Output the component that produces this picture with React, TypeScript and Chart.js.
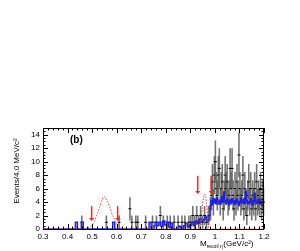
import React, { useEffect, useRef } from "react";
import { Chart, registerables } from "chart.js";

Chart.register(...registerables);

// Data points (bin centres, GeV/c^2) and event counts
const dataMass = [
  0.458, 0.558, 0.61, 0.654, 0.662, 0.678, 0.686, 0.718, 0.746, 0.762, 0.778, 0.79, 0.806, 0.818,
  0.834, 0.85, 0.866, 0.878, 0.894, 0.902, 0.91, 0.918, 0.926, 0.934, 0.942, 0.95, 0.958, 0.966,
  0.974, 0.982, 0.986, 0.99, 0.994, 0.998, 1.002, 1.006, 1.01, 1.014, 1.018, 1.022, 1.026, 1.03,
  1.034, 1.038, 1.042, 1.046, 1.05, 1.054, 1.058, 1.062, 1.066, 1.07, 1.074, 1.078, 1.082, 1.086,
  1.09, 1.094, 1.098, 1.102, 1.106, 1.11, 1.114, 1.118, 1.122, 1.126, 1.13, 1.134, 1.138, 1.142,
  1.146, 1.15, 1.154, 1.158, 1.162, 1.166, 1.17, 1.174, 1.178, 1.182, 1.186, 1.19, 1.194, 1.198,
];
const dataEvents = [
  1, 1, 1, 3, 1, 1, 1, 1, 1, 1, 2, 1, 1, 1,
  1, 1, 1, 1, 1, 1, 2, 1, 2, 1, 2, 1, 2, 1,
  2, 3, 5, 7, 4, 8, 10, 6, 5, 8, 9, 4, 6, 7,
  3, 5, 8, 6, 7, 4, 5, 9, 6, 9, 5, 3, 6, 4,
  7, 5, 11, 6, 4, 5, 8, 3, 6, 4, 2, 5, 7, 4,
  6, 3, 5, 4, 6, 3, 7, 4, 5, 4, 6, 3, 5, 4,
];

// MC background histogram: bin low edges and contents
const bkgEdge = [
  0.3, 0.432, 0.44, 0.456, 0.464, 0.584, 0.592, 0.732, 0.74, 0.752, 0.756, 0.764, 0.772, 0.78,
  0.788, 0.796, 0.804, 0.812, 0.82, 0.828, 0.852, 0.86, 0.872, 0.88, 0.888, 0.896, 0.904, 0.912,
  0.92, 0.928, 0.936, 0.944, 0.952, 0.96, 0.968, 0.976, 0.98, 0.984, 0.988, 0.992, 0.996, 1.0,
  1.004, 1.008, 1.012, 1.016, 1.02, 1.024, 1.028, 1.032, 1.036, 1.04, 1.044, 1.048, 1.052, 1.056,
  1.06, 1.064, 1.068, 1.072, 1.076, 1.08, 1.084, 1.088, 1.092, 1.096, 1.1, 1.104, 1.108, 1.112,
  1.116, 1.12, 1.124, 1.128, 1.132, 1.136, 1.14, 1.144, 1.148, 1.152, 1.156, 1.16, 1.164, 1.168,
  1.172, 1.176, 1.18, 1.184, 1.188, 1.192, 1.196, 1.2,
];
const bkgEvents = [
  0, 1, 0, 1, 0, 1, 0, 1, 0, 0.5, 1, 0.5, 1, 0.4,
  1.2, 0.6, 1, 0.3, 0.8, 0, 0.4, 0, 0.5, 0.8, 0.3, 0.6, 1, 0.5,
  1.2, 0.8, 1.5, 1, 1.4, 1.8, 1.2, 2, 3.4, 4.2, 3.6, 4.5, 3.9, 4.4,
  3.8, 4.6, 4.1, 3.7, 4.3, 3.9, 4.8, 4.0, 5.5, 4.2, 3.8, 4.4, 4.0, 3.6,
  4.3, 3.9, 4.5, 4.0, 3.7, 4.2, 3.8, 4.4, 4.0, 3.5, 4.1, 4.6, 3.9, 4.3,
  3.8, 4.4, 5.6, 4.2, 3.7, 4.1, 3.9, 4.5, 4.0, 3.6, 4.2, 5.3, 4.1, 3.8,
  4.3, 3.9, 4.4, 3.7, 4.1, 3.8, 4.0, 4.0,
];

// Signal MC shapes
const sigMass = [
  0.3, 0.47, 0.49, 0.5, 0.51, 0.52, 0.53, 0.54, 0.548, 0.555, 0.565, 0.575, 0.585, 0.595, 0.605,
  0.615, 0.63, 0.935, 0.94, 0.945, 0.95, 0.955, 0.958, 0.962, 0.966, 0.97, 0.974, 0.978, 1.2,
];
const sigEvents = [
  0, 0, 0.3, 0.6, 1.2, 2.1, 3.2, 4.3, 4.8, 4.6, 3.9, 2.9, 1.9, 1.1, 0.5,
  0.2, 0, 0, 0.6, 1.8, 3.6, 4.9, 5.2, 4.8, 3.6, 1.9, 0.6, 0, 0,
];

// Selection arrows
const arrowMass = [0.498, 0.604, 0.93, 0.985];
const arrowTop = [3.4, 3.4, 7.9, 7.9];
const arrowTip = [1.2, 1.2, 5.2, 5.2];

const xTicks = [0.3, 0.4, 0.5, 0.6, 0.7, 0.8, 0.9, 1.0, 1.1, 1.2];
const yTicks = [0, 2, 4, 6, 8, 10, 12, 14];

const FONT = '"Liberation Sans", Arial, sans-serif';

export default function App() {
  const ref = useRef<HTMLCanvasElement | null>(null);

  useEffect(() => {
    const canvas = ref.current;
    if (!canvas) return;

    const histPts: { x: number; y: number }[] = bkgEdge.map((e, i) => ({ x: e, y: bkgEvents[i] }));
    const sigPts = sigMass.map((m, i) => ({ x: m, y: sigEvents[i] }));
    const dataPts = dataMass.map((m, i) => ({ x: m, y: dataEvents[i] }));

    const overlay = {
      id: "overlay",
      beforeDatasetsDraw(chart: any) {
        const { ctx } = chart;
        const xs = chart.scales.x;
        const ys = chart.scales.y;
        ctx.save();
        dataMass.forEach((m, i) => {
          const n = dataEvents[i];
          const e = Math.sqrt(n);
          const px = xs.getPixelForValue(m);
          const y1 = ys.getPixelForValue(Math.max(0, n - e));
          const y2 = ys.getPixelForValue(n + e);
          ctx.strokeStyle = "rgba(90,90,90,0.85)";
          ctx.lineWidth = 1.6;
          ctx.beginPath();
          ctx.moveTo(px, y1);
          ctx.lineTo(px, y2);
          ctx.stroke();
          const py = ys.getPixelForValue(n);
          ctx.strokeStyle = "#000";
          ctx.lineWidth = 1;
          ctx.beginPath();
          ctx.moveTo(px - 1.5, py);
          ctx.lineTo(px + 1.5, py);
          ctx.stroke();
        });
        ctx.restore();
      },
      afterDatasetsDraw(chart: any) {
        const { ctx, chartArea: a } = chart;
        const xs = chart.scales.x;
        const ys = chart.scales.y;
        ctx.save();
        // arrows
        ctx.strokeStyle = "#ff2020";
        ctx.fillStyle = "#ff2020";
        ctx.lineWidth = 1.5;
        arrowMass.forEach((m, i) => {
          const px = xs.getPixelForValue(m);
          const yt = ys.getPixelForValue(arrowTop[i]);
          const yb = ys.getPixelForValue(arrowTip[i]);
          ctx.beginPath();
          ctx.moveTo(px, yt);
          ctx.lineTo(px, yb - 2);
          ctx.stroke();
          ctx.beginPath();
          ctx.moveTo(px - 2.5, yb - 3);
          ctx.lineTo(px + 2.5, yb - 3);
          ctx.lineTo(px, yb);
          ctx.closePath();
          ctx.fill();
        });
        // frame
        ctx.strokeStyle = "#000";
        ctx.lineWidth = 1;
        ctx.strokeRect(a.left + 0.5, a.top + 0.5, a.right - a.left - 1, a.bottom - a.top);
        ctx.beginPath();
        for (let k = 0; k <= 45; k++) {
          const v = 0.3 + k * 0.02;
          const px = Math.round(xs.getPixelForValue(v)) + 0.5;
          const len = k % 5 === 0 ? 5 : 2.5;
          ctx.moveTo(px, a.bottom);
          ctx.lineTo(px, a.bottom - len);
          ctx.moveTo(px, a.top);
          ctx.lineTo(px, a.top + len);
        }
        for (let k = 0; k <= 30; k++) {
          const v = k * 0.5;
          const py = Math.round(ys.getPixelForValue(v)) + 0.5;
          const len = k % 4 === 0 ? 5 : 2.5;
          ctx.moveTo(a.left, py);
          ctx.lineTo(a.left + len, py);
          ctx.moveTo(a.right, py);
          ctx.lineTo(a.right - len, py);
        }
        ctx.stroke();

        ctx.fillStyle = "#000";
        ctx.font = `bold 10px ${FONT}`;
        ctx.textBaseline = "alphabetic";
        ctx.textAlign = "left";
        ctx.fillText("(b)", a.left + 27, a.top + 15);

        ctx.save();
        ctx.translate(19, 171);
        ctx.rotate(-Math.PI / 2);
        ctx.font = `8px ${FONT}`;
        ctx.textAlign = "center";
        ctx.fillText("Events/4.0 MeV/c\u00B2", 0, 0);
        ctx.restore();

        ctx.font = `8px ${FONT}`;
        ctx.textAlign = "left";
        let x = 200;
        const yb = 246;
        ctx.fillText("M", x, yb);
        x += ctx.measureText("M").width;
        ctx.font = `5px ${FONT}`;
        ctx.fillText("recoil \u03B7", x, yb + 2);
        x += ctx.measureText("recoil \u03B7").width + 0.5;
        ctx.font = `8px ${FONT}`;
        ctx.fillText("(GeV/c\u00B2)", x, yb);
        ctx.restore();
      },
    };

    const chart = new Chart(canvas, {
      type: "line",
      data: {
        datasets: [
          {
            label: "signal",
            data: sigPts,
            borderColor: "#ff4040",
            borderWidth: 1,
            borderDash: [1.5, 1.5],
            pointRadius: 0,
            tension: 0.3,
            fill: false,
          },
          {
            label: "bkg",
            data: histPts,
            borderColor: "#2020e0",
            borderWidth: 1.5,
            pointRadius: 0,
            stepped: "before",
            fill: false,
          },
          {
            label: "data",
            data: dataPts,
            showLine: false,
            pointRadius: 0,
            borderColor: "#000",
          },
        ],
      },
      options: {
        responsive: false,
        animation: false,
        events: [],
        layout: { padding: { left: 0, right: 36, top: 128, bottom: 0 } },
        plugins: { legend: { display: false }, tooltip: { enabled: false } },
        scales: {
          x: {
            type: "linear",
            min: 0.3,
            max: 1.2,
            afterFit(s: any) {
              s.height = 22;
            },
            afterBuildTicks(s: any) {
              s.ticks = xTicks.map((v) => ({ value: v }));
            },
            grid: { display: false, drawTicks: false },
            border: { display: false },
            ticks: {
              padding: 3,
              maxRotation: 0,
              autoSkip: false,
              color: "#000",
              font: { family: FONT, size: 8 },
              callback: (v: any) => String(Math.round(Number(v) * 10) / 10),
            },
          },
          y: {
            type: "linear",
            min: 0,
            max: 15,
            afterFit(s: any) {
              s.width = 43;
            },
            afterBuildTicks(s: any) {
              s.ticks = yTicks.map((v) => ({ value: v }));
            },
            grid: { display: false, drawTicks: false },
            border: { display: false },
            ticks: {
              padding: 3,
              autoSkip: false,
              color: "#000",
              font: { family: FONT, size: 8 },
            },
          },
        },
      },
      plugins: [overlay],
    });

    return () => chart.destroy();
  }, []);

  return (
    <div style={{ position: "fixed", left: 0, top: 0, width: 300, height: 251, background: "#fff" }}>
      <canvas ref={ref} width={300} height={251} style={{ display: "block" }} />
    </div>
  );
}
